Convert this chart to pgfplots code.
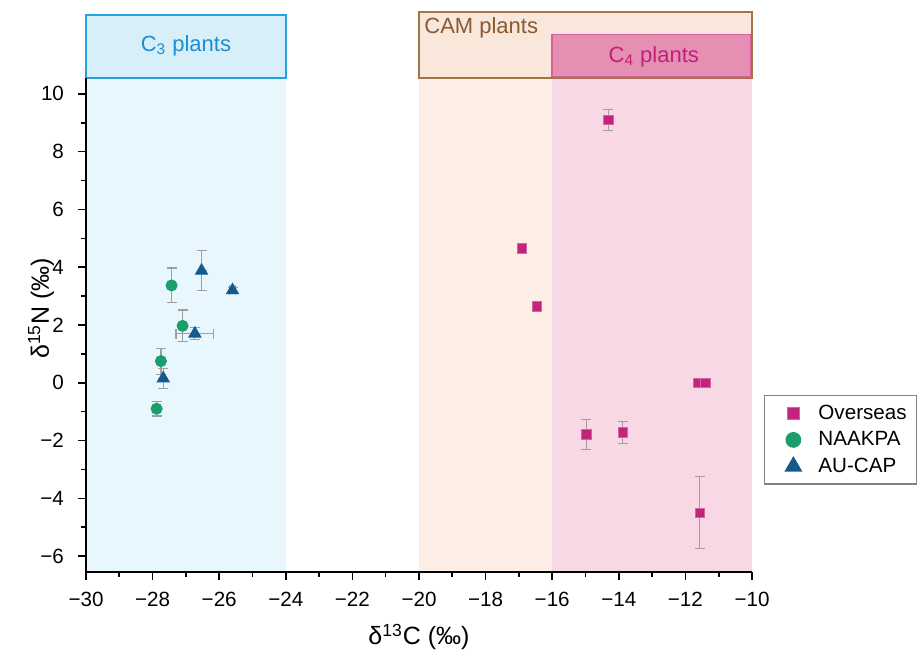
\documentclass[border=0pt]{standalone}
\usepackage{fontspec}
\setmainfont{Liberation Sans}
\usepackage{pgfplots}
\pgfplotsset{compat=1.18}
\definecolor{cthreefill}{HTML}{E8F6FD}
\definecolor{cthreebox}{HTML}{D7EFF8}
\definecolor{cthreeline}{HTML}{22A2DE}
\definecolor{cthreetext}{HTML}{1C8ED3}
\definecolor{camfill}{HTML}{FCEEE5}
\definecolor{cambox}{HTML}{FAE7DB}
\definecolor{camline}{HTML}{A47445}
\definecolor{camtext}{HTML}{8A5A30}
\definecolor{cfourfill}{HTML}{F9D8E6}
\definecolor{cfourbox}{HTML}{E590B2}
\definecolor{cfourline}{HTML}{D9609F}
\definecolor{cfourtext}{HTML}{C0207A}
\definecolor{overc}{HTML}{C2237B}
\definecolor{naakc}{HTML}{1A9E6B}
\definecolor{aucapc}{HTML}{145A8C}
\begin{document}
\begin{tikzpicture}
\useasboundingbox (-43pt,-40pt) rectangle (415.5pt,286pt);
\begin{axis}[
  at={(0,0)}, anchor=south west,
  scale only axis, width=333pt, height=247pt,
  xmin=-30, xmax=-10, ymin=-6.55, ymax=10.55,
  axis x line*=bottom, axis y line*=left,
  axis line style={line width=1pt, -},
  axis on top,
  clip=false,
  xtick={-30,-28,-26,-24,-22,-20,-18,-16,-14,-12,-10},
  xticklabels={−30,−28,−26,−24,−22,−20,−18,−16,−14,−12,−10},
  ytick={-6,-4,-2,0,2,4,6,8,10},
  yticklabels={−6,−4,−2,0,2,4,6,8,10},
  minor x tick num=1, minor y tick num=1,
  tick align=outside, major tick length=4pt, minor tick length=2.5pt,
  tick style={black, line width=0.8pt},
  ticklabel style={font=\fontsize{10.3}{12}\selectfont},
  xticklabel style={yshift=-2.5pt},
  yticklabel style={xshift=-3.5pt},
  xlabel={δ\textsuperscript{13}C (‰)},
  ylabel={δ\textsuperscript{15}N (‰)},
  label style={font=\fontsize{12.5}{15}\selectfont},
  xlabel style={at={(axis description cs:0.5,-0.1316)}, anchor=center},
  ylabel style={at={(axis description cs:-0.0676,0.534)}, anchor=center},
  legend style={at={(1.018,0.358)}, anchor=north west, draw=gray, line width=0.6pt,
    font=\fontsize{10.3}{12}\selectfont, row sep=0.6pt, inner xsep=3pt, inner ysep=2.5pt},
  legend cell align=left,
  legend image code/.code={\path (0cm,0cm) (0.75cm,0cm);
    \draw[#1, every mark/.append style={scale=1.3}] plot coordinates {(0.39cm,0cm)};},
  error bars/error bar style={gray!75, line width=0.6pt},
  error bars/error mark options={rotate=90, gray!75, line width=0.6pt, mark size=2.5pt},
]
% background regions
\fill[cthreefill] (axis cs:-30,-6.55) rectangle (axis cs:-24,10.55);
\fill[camfill] (axis cs:-20,-6.55) rectangle (axis cs:-10,10.55);
\fill[cfourfill] (axis cs:-16,-6.55) rectangle (axis cs:-10,10.55);
% boxes above
\draw[cthreeline, fill=cthreebox, line width=1pt] (axis cs:-30,10.55) rectangle (axis cs:-24,12.73);
\node[text=cthreetext, font=\fontsize{11}{13}\selectfont] at (axis cs:-27,11.68) {C\textsubscript{3} plants};
\draw[camline, fill=cambox, line width=1pt] (axis cs:-20,10.55) rectangle (axis cs:-10,12.84);
\node[text=camtext, font=\fontsize{11}{13}\selectfont, anchor=west] at (axis cs:-20.05,12.27) {CAM plants};
\draw[cfourline, fill=cfourbox, line width=0.8pt] (axis cs:-16,10.6) rectangle (axis cs:-10.05,12.05);
\node[text=cfourtext, font=\fontsize{11}{13}\selectfont] at (axis cs:-12.95,11.28) {C\textsubscript{4} plants};

\addplot[only marks, mark=square*, mark size=2.4pt, mark options={fill=overc, draw=overc!70},
  error bars/.cd, x dir=both, x explicit, y dir=both, y explicit]
  table[x=x, y=y, x error=ex, y error=ey] {
  x y ex ey
  -14.32 9.10 0 0.36
  -16.91 4.66 0 0.06
  -16.46 2.64 0 0.10
  -14.97 -1.78 0 0.52
  -13.88 -1.72 0 0.38
  -11.63 0.00 0 0.05
  -11.40 0.00 0 0.05
  -11.57 -4.50 0 1.25
  };
\addlegendentry{Overseas}
\addplot[only marks, mark=*, mark size=2.8pt, mark options={fill=naakc, draw=naakc},
  error bars/.cd, x dir=both, x explicit, y dir=both, y explicit]
  table[x=x, y=y, x error=ex, y error=ey] {
  x y ex ey
  -27.43 3.37 0 0.60
  -27.10 1.97 0 0.55
  -27.75 0.75 0 0.45
  -27.88 -0.90 0 0.25
  };
\addlegendentry{NAAKPA}
\addplot[only marks, mark=triangle*, mark size=3.5pt, mark options={fill=aucapc, draw=aucapc},
  error bars/.cd, x dir=both, x explicit, y dir=both, y explicit]
  table[x=x, y=y, x error=ex, y error=ey] {
  x y ex ey
  -26.53 3.88 0 0.69
  -25.60 3.20 0.08 0.10
  -26.73 1.70 0.57 0.20
  -27.68 0.15 0 0.35
  };
\addlegendentry{AU-CAP}
\end{axis}
\end{tikzpicture}
\end{document}
